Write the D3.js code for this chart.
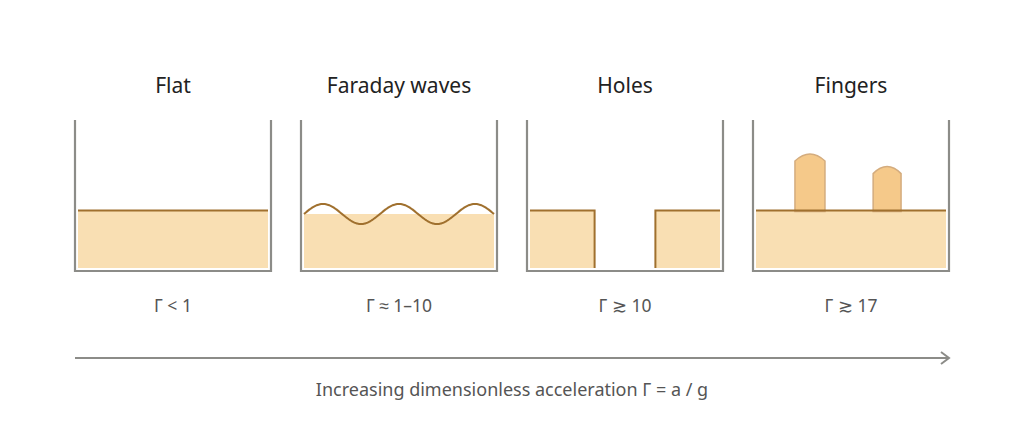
<!DOCTYPE html>
<meta charset="utf-8">
<style>
 body { margin: 0; background: #fff; }
 text { font-family: "Noto Sans", sans-serif; }
 .title { font-size: 21px; fill: #222; }
 .gamma { font-size: 17.5px; fill: #555; }
 .axis-label { font-size: 18px; fill: #555; }
</style>
<body>
<div id="chart"></div>
<script src="https://cdn.jsdelivr.net/npm/d3@7"></script>
<script>
// regimes, left to right
var regimes = ["Flat", "Faraday waves", "Holes", "Fingers"];
var gammaLabels = ["\u0393 < 1", "\u0393 \u2248 1\u201310", "\u0393 \u2273 10", "\u0393 \u2273 17"];
var axisLabel = "Increasing dimensionless acceleration \u0393 = a / g";

// fluid level as fraction of container height (0 = bottom, 1 = rim)
var fluidLevel = [0.389, 0.365, 0.389, 0.389];
// Faraday waves: number of wavelengths across the bath and amplitude (fraction of height)
var waveCycles = 2.5;
var waveAmp = 0.068;
// Holes: hole edges as fraction of inner width
var holeEdges = [0.34, 0.66];
// Fingers: centre and width (fraction of inner width), top (fraction of height)
var fingerX = [0.284, 0.69];
var fingerW = [0.158, 0.147];
var fingerTop = [0.77, 0.685];

(function(){
  var width = 1024, height = 437;
  var svg = d3.select("#chart").append("svg")
      .attr("width", width).attr("height", height);

  // band width of 196 each, stride 226
  var x = d3.scaleBand().domain(regimes).range([75, 75 + 226 * 4 - 30])
      .paddingInner(30 / 226).paddingOuter(0);

  var top = 120, bottom = 271, inset = 3;
  var y = d3.scaleLinear().domain([0, 1]).range([bottom - inset, top]);

  var wall = "#8c8c88", fill = "#f9dfb3", line = "#a0702e",
      fingerFill = "#f5c98a", fingerStroke = "#d4ac7e";

  var g = svg.selectAll("g.panel").data(regimes).enter()
      .append("g").attr("class", "panel")
      .attr("transform", function(d) { return "translate(" + x(d) + ",0)"; });

  var bw = x.bandwidth();
  var ix = d3.scaleLinear().domain([0, 1]).range([inset, bw - inset]);

  g.append("text").attr("class", "title")
      .attr("x", bw / 2).attr("y", 93).attr("text-anchor", "middle")
      .text(function(d) { return d; });

  g.append("text").attr("class", "gamma")
      .attr("x", bw / 2).attr("y", 312).attr("text-anchor", "middle")
      .text(function(d, i) { return gammaLabels[i]; });

  // fluid
  g.each(function(d, i) {
    var p = d3.select(this);
    var lv = y(fluidLevel[i]);
    if (i === 0) {
      p.append("rect").attr("x", ix(0)).attr("y", lv).attr("width", ix(1) - ix(0))
        .attr("height", y(0) - lv).attr("fill", fill);
      p.append("line").attr("x1", ix(0)).attr("x2", ix(1)).attr("y1", lv).attr("y2", lv)
        .attr("stroke", line).attr("stroke-width", 2);
    } else if (i === 1) {
      p.append("rect").attr("x", ix(0)).attr("y", lv).attr("width", ix(1) - ix(0))
        .attr("height", y(0) - lv).attr("fill", fill);
      var amp = y(0) - y(waveAmp);
      var pts = d3.range(0, 1.0001, 0.005).map(function(t) {
        return [ix(t), lv - amp * Math.sin(2 * Math.PI * waveCycles * t)];
      });
      p.append("path").attr("d", d3.line().curve(d3.curveBasis)(pts))
        .attr("fill", "none").attr("stroke", line).attr("stroke-width", 2);
    } else if (i === 2) {
      var blocks = [[0, holeEdges[0]], [holeEdges[1], 1]];
      p.selectAll("rect.blk").data(blocks).enter().append("rect").attr("class", "blk")
        .attr("x", function(b) { return ix(b[0]); }).attr("y", lv)
        .attr("width", function(b) { return ix(b[1]) - ix(b[0]); })
        .attr("height", y(0) - lv).attr("fill", fill);
      var path = "M" + ix(0) + "," + lv + "H" + ix(holeEdges[0]) + "V" + y(0) +
                 "M" + ix(1) + "," + lv + "H" + ix(holeEdges[1]) + "V" + y(0);
      p.append("path").attr("d", path).attr("fill", "none")
        .attr("stroke", line).attr("stroke-width", 2);
    } else {
      p.append("rect").attr("x", ix(0)).attr("y", lv).attr("width", ix(1) - ix(0))
        .attr("height", y(0) - lv).attr("fill", fill);
      fingerX.forEach(function(c, k) {
        var x0 = ix(c - fingerW[k] / 2), x1 = ix(c + fingerW[k] / 2);
        var tp = y(fingerTop[k]), dome = 7, sh = tp + dome;
        var d = "M" + x0 + "," + (lv + 1) + "V" + sh +
                "Q" + (x0 + x1) / 2 + "," + (tp - dome) + " " + x1 + "," + sh +
                "V" + (lv + 1) + "Z";
        p.append("path").attr("d", d).attr("fill", fingerFill)
          .attr("stroke", fingerStroke).attr("stroke-width", 1.5);
      });
      p.append("line").attr("x1", ix(0)).attr("x2", ix(1)).attr("y1", lv).attr("y2", lv)
        .attr("stroke", line).attr("stroke-width", 2);
    }
  });

  // container walls
  g.append("path")
      .attr("d", "M0," + top + "V" + bottom + "H" + bw + "V" + top)
      .attr("fill", "none").attr("stroke", wall).attr("stroke-width", 2.2);

  // arrow
  var ax0 = 75, ax1 = 949, ay = 358;
  svg.append("line").attr("x1", ax0).attr("x2", ax1 - 1).attr("y1", ay).attr("y2", ay)
      .attr("stroke", wall).attr("stroke-width", 2);
  svg.append("path")
      .attr("d", "M" + (ax1 - 8) + "," + (ay - 6) + "L" + ax1 + "," + ay + "L" + (ax1 - 8) + "," + (ay + 6))
      .attr("fill", "none").attr("stroke", wall).attr("stroke-width", 2);

  svg.append("text").attr("class", "axis-label")
      .attr("x", (ax0 + ax1) / 2).attr("y", 396).attr("text-anchor", "middle")
      .text(axisLabel);
})();
</script>
</body>
